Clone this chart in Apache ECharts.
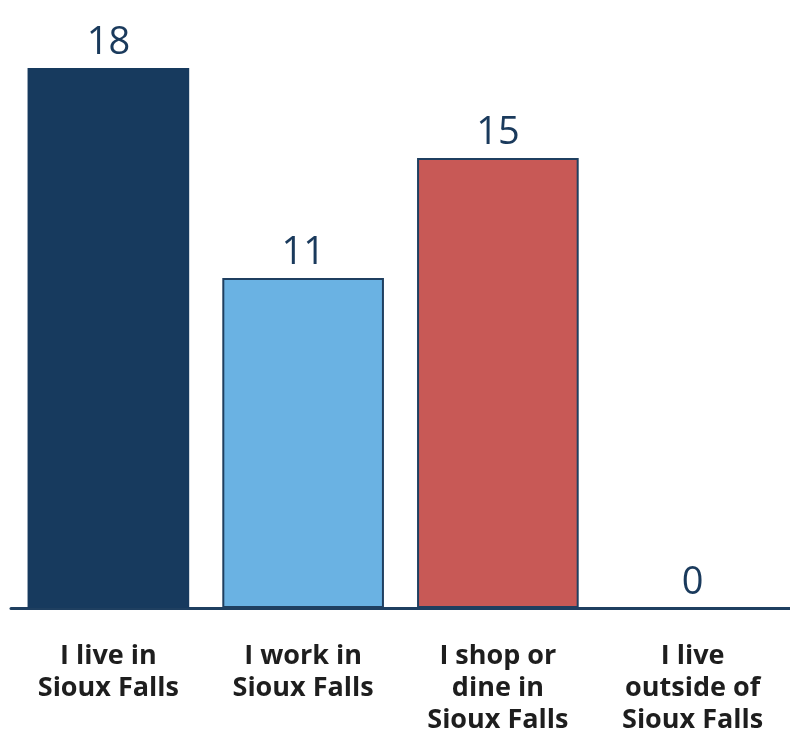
<!DOCTYPE html>
<html><head><meta charset="utf-8">
<script src="https://cdn.jsdelivr.net/npm/echarts@6/dist/echarts.min.js"></script>
<style>html,body{margin:0;padding:0;background:#fff}#c{width:790px;height:736px}</style>
</head><body><div id="c"></div>
<script>
const categories = ['I live in\nSioux Falls', 'I work in\nSioux Falls', 'I shop or\ndine in\nSioux Falls', 'I live\noutside of\nSioux Falls'];
const values = [18, 11, 15, 0];
const barColors = ['#173a5e', '#6ab2e3', '#c85956', '#ffffff'];
const chart = echarts.init(document.getElementById('c'));
chart.setOption({
  animation: false,
  grid: { left: 11, right: 0, top: 8, bottom: 128 },
  xAxis: {
    type: 'category', data: categories,
    axisLine: { lineStyle: { color: '#1f3f60', width: 3 } },
    axisTick: { show: false },
    axisLabel: { color: '#1e1e1e', fontFamily: '"Open Sans", sans-serif', fontWeight: 'bold', fontSize: 27, lineHeight: 32, margin: 32, verticalAlign: 'top', interval: 0 }
  },
  yAxis: { type: 'value', min: 0, max: 20, show: false, splitLine: { show: false } },
  series: [{
    type: 'bar', barCategoryGap: '17%',
    data: values.map((v, i) => ({ value: v, itemStyle: { color: barColors[i], borderColor: i === 0 ? '#173a5e' : '#1f3f60', borderWidth: i === 3 ? 0 : 2 } })),
    label: { show: true, position: 'top', distance: 6, color: '#1a3a5c', fontFamily: '"Open Sans", sans-serif', fontSize: 38, fontWeight: 'normal' }
  }]
});
</script></body></html>
